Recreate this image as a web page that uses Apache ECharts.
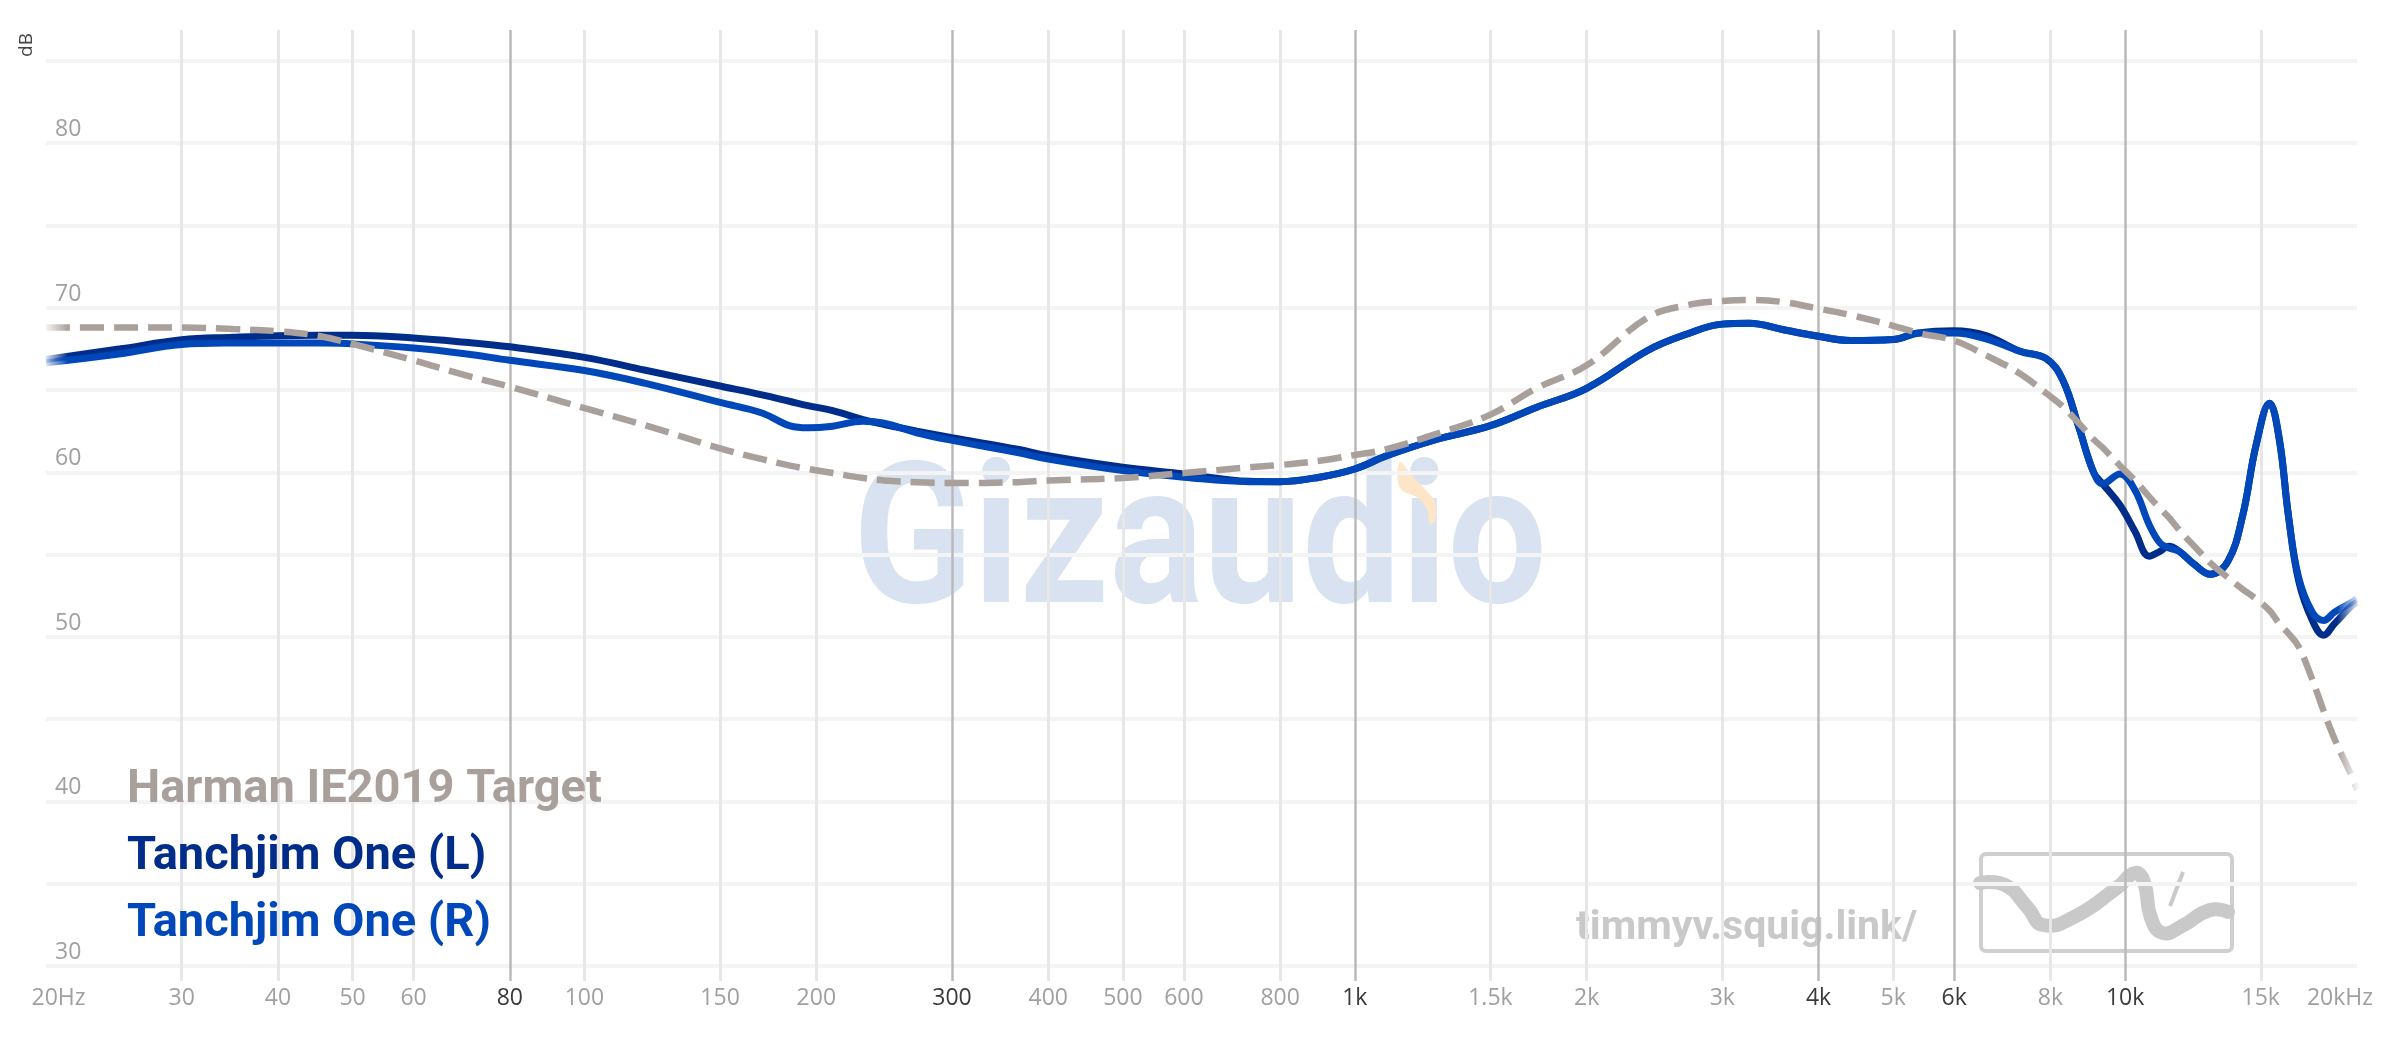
<!DOCTYPE html>
<html><head><meta charset="utf-8">
<script src="https://cdn.jsdelivr.net/npm/echarts@6/dist/echarts.min.js"></script>
<style>html,body{margin:0;padding:0;background:#fff}#c{width:2400px;height:1038px}</style>
</head><body><div id="c"></div>
<script>
const freqs = [20,25,30,35,40,45,50,60,70,80,100,120,150,170,185,195,210,230,245,270,300,365,400,500,600,730,800,900,1000,1100,1270,1500,1720,2000,2400,2700,3000,3250,3600,4000,4400,5000,5400,6000,6600,7300,7900,8300,8700,9100,9350,9850,10300,10750,11100,11400,11750,12300,12900,13600,14200,14800,15400,15850,16300,16800,17500,18100,18700,19700,20000];
const harmanTarget = [68.8,68.8,68.8,68.7,68.57,68.3,67.8,66.8,65.9,65.2,63.9,62.85,61.45,60.8,60.4,60.2,59.95,59.65,59.5,59.4,59.34,59.4,59.5,59.65,59.95,60.3,60.44,60.7,61.05,61.4,62.3,63.5,65.1,66.5,69.4,70.15,70.4,70.47,70.34,69.94,69.55,68.9,68.45,68.0,67.1,66.0,64.8,64.0,63.0,62.0,61.5,60.4,59.5,58.5,57.8,57.25,56.5,55.5,54.5,53.6,52.9,52.3,51.6,50.8,50.2,49.4,47.4,45.5,43.8,41.5,40.7];
const tanchjimL = [66.85,67.5,68.05,68.2,68.3,68.33,68.33,68.16,67.9,67.62,66.98,66.2,65.24,64.7,64.3,64.05,63.75,63.2,62.9,62.5,62.1,61.4,61.0,60.3,59.9,59.45,59.43,59.7,60.2,61.0,61.96,62.83,63.94,65.1,67.4,68.4,69.0,69.05,68.66,68.26,68.0,68.06,68.46,68.6,68.3,67.35,66.9,65.6,62.8,60.0,59.3,58.0,56.4,54.9,55.2,55.5,55.2,54.4,53.8,54.6,57.3,61.7,64.2,62.0,57.3,53.4,51.0,50.1,50.8,51.9,52.1];
const tanchjimR = [66.65,67.2,67.76,67.85,67.86,67.85,67.8,67.55,67.2,66.8,66.18,65.4,64.24,63.6,62.82,62.7,62.8,63.1,62.98,62.4,61.94,61.2,60.8,60.1,59.7,59.43,59.43,59.7,60.2,61.0,61.96,62.83,63.94,65.1,67.4,68.4,69.0,69.05,68.66,68.26,68.0,68.06,68.46,68.46,68.1,67.35,66.9,65.6,62.8,60.0,59.3,59.9,58.9,56.8,55.7,55.4,55.2,54.4,53.8,54.6,57.3,61.7,64.2,62.1,57.3,53.6,51.5,51.0,51.5,52.1,52.3];

const xTickValues = [20,30,40,50,60,80,100,150,200,300,400,500,600,800,1000,1500,2000,3000,4000,5000,6000,8000,10000,15000,20000];
const xTickLabels = ['20Hz','30','40','50','60','80','100','150','200','300','400','500','600','800','1k','1.5k','2k','3k','4k','5k','6k','8k','10k','15k','20kHz'];
const darkTicks = [80,300,1000,4000,6000,10000];
const yGridValues = [30,35,40,45,50,55,60,65,70,75,80,85];
const yLabelValues = [30,40,50,60,70,80];

const names = ['Harman IE2019 Target','Tanchjim One (L)','Tanchjim One (R)'];
const colors = ['#a9a09c','#002d8a','#0048b9'];

function fade(hex){
  const r=parseInt(hex.slice(1,3),16),g=parseInt(hex.slice(3,5),16),b=parseInt(hex.slice(5,7),16);
  const t='rgba('+r+','+g+','+b+',0)';
  return {type:'linear',x:0,y:0,x2:1,y2:0,colorStops:[{offset:0,color:t},{offset:0.011,color:hex},{offset:0.99,color:hex},{offset:1,color:t}]};
}
const pairs = arr => freqs.map((f,i)=>[f,arr[i]]);

const gridLines = []
  .concat(yGridValues.map(v=>({yAxis:v,lineStyle:{color:'#f4f4f4',width:4,type:'solid'}})))
  .concat(xTickValues.filter(v=>v>20&&v<20000).map(v=>({xAxis:v,lineStyle:{color:darkTicks.includes(v)?'#bababa':'#e7e7e7',width:darkTicks.includes(v)?2.5:3,type:'solid'}})));

const chart = echarts.init(document.getElementById('c'));
chart.setOption({
  animation:false,
  backgroundColor:'#fff',
  grid:{left:46,right:43,top:30,bottom:57},
  xAxis:{type:'log',logBase:10,min:20,max:20000,
    axisLine:{show:false},axisTick:{show:false},splitLine:{show:false},minorSplitLine:{show:false},
    axisLabel:{customValues:xTickValues,margin:6,fontSize:23,fontFamily:'Open Sans',color:'#a0a0a0',
      formatter:function(v){
        let i=xTickValues.findIndex(t=>Math.abs(t-v)/t<1e-6);
        if(i<0) return '';
        const s=xTickLabels[i];
        if(i===0) return '{first|'+s+'}';
        if(i===xTickValues.length-1) return '{last|'+s+'}';
        return darkTicks.includes(xTickValues[i])?'{d|'+s+'}':'{l|'+s+'}';
      },
      rich:{
        d:{color:'#3a3a3a',fontSize:23,fontFamily:'Open Sans'},
        l:{color:'#a0a0a0',fontSize:23,fontFamily:'Open Sans'},
        first:{color:'#a0a0a0',fontSize:23,fontFamily:'Open Sans',padding:[0,0,0,25]},
        last:{color:'#a0a0a0',fontSize:23,fontFamily:'Open Sans',padding:[0,34,0,0]}
      }
    }
  },
  yAxis:{type:'value',min:29.09,max:86.87,
    axisLine:{show:false},axisTick:{show:false},splitLine:{show:false},
    axisLabel:{customValues:yLabelValues,inside:true,margin:9,verticalAlign:'bottom',
      fontSize:23,fontFamily:'Open Sans',color:'#a0a0a0',padding:[0,0,2,0]}
  },
  legend:{orient:'vertical',left:117,top:762,itemGap:20,icon:'none',itemWidth:0,itemHeight:46,selectedMode:false,
    textStyle:{fontSize:47,fontFamily:'Roboto',fontWeight:'bold',lineHeight:46},
    data:names.map((n,i)=>({name:n,textStyle:{color:colors[i]}}))
  },
  graphic:[
    {type:'text',x:27,y:45,rotation:Math.PI/2,z:0,style:{text:'dB',fontSize:19,fontFamily:'Open Sans',fill:'#444',align:'center',verticalAlign:'middle'}},
    {type:'text',x:1200,y:553,scaleY:1.12,z:0,silent:true,style:{text:'Gizaudio',fontSize:176,fontWeight:'bold',fontFamily:'Roboto',fill:'#d9e2f0',align:'center',verticalAlign:'middle'}},
    {type:'polygon',z:0,silent:true,shape:{points:[[1400,462],[1412,476],[1426,490],[1436,505],[1435,520],[1430,524],[1427,510],[1418,498],[1400,488]],smooth:0.4},style:{fill:'#fde5c8'}},
    {type:'text',x:1576,y:929,z:0,silent:true,style:{text:'timmyv.squig.link/',fontSize:41,fontWeight:'bold',fontFamily:'Roboto',fill:'#c9c9c9',align:'left',verticalAlign:'middle'}},
    {type:'rect',z:0,silent:true,shape:{x:1981,y:854,width:251,height:97,r:5},style:{fill:'none',stroke:'#cfcfcf',lineWidth:4}},
    {type:'polyline',z:0,silent:true,shape:{points:[[1980,883],[2005,885],[2028,908],[2043,925],[2074,917],[2118,887],[2135,873],[2144,882],[2151,918],[2163,933],[2182,926],[2210,910],[2228,912]],smooth:0.5},style:{stroke:'#c9c9c9',lineWidth:14,fill:'none',lineCap:'round'}},
    {type:'line',z:0,silent:true,shape:{x1:2170,y1:906,x2:2183,y2:872},style:{stroke:'#c9c9c9',lineWidth:4}}
  ],
  series:[
    {name:names[1],type:'line',data:pairs(tanchjimL),showSymbol:false,smooth:0.4,z:3,
      lineStyle:{width:7,color:fade(colors[1])},itemStyle:{color:colors[1]},
      markLine:{z:1,silent:true,symbol:['none','none'],label:{show:false},emphasis:{disabled:true},data:gridLines}},
    {name:names[2],type:'line',data:pairs(tanchjimR),showSymbol:false,smooth:0.4,z:3,
      lineStyle:{width:7,color:fade(colors[2])},itemStyle:{color:colors[2]}},
    {name:names[0],type:'line',data:pairs(harmanTarget),showSymbol:false,smooth:0.4,z:4,
      lineStyle:{width:6.5,type:[24,10],color:fade(colors[0])},itemStyle:{color:colors[0]}}
  ]
});
</script></body></html>
